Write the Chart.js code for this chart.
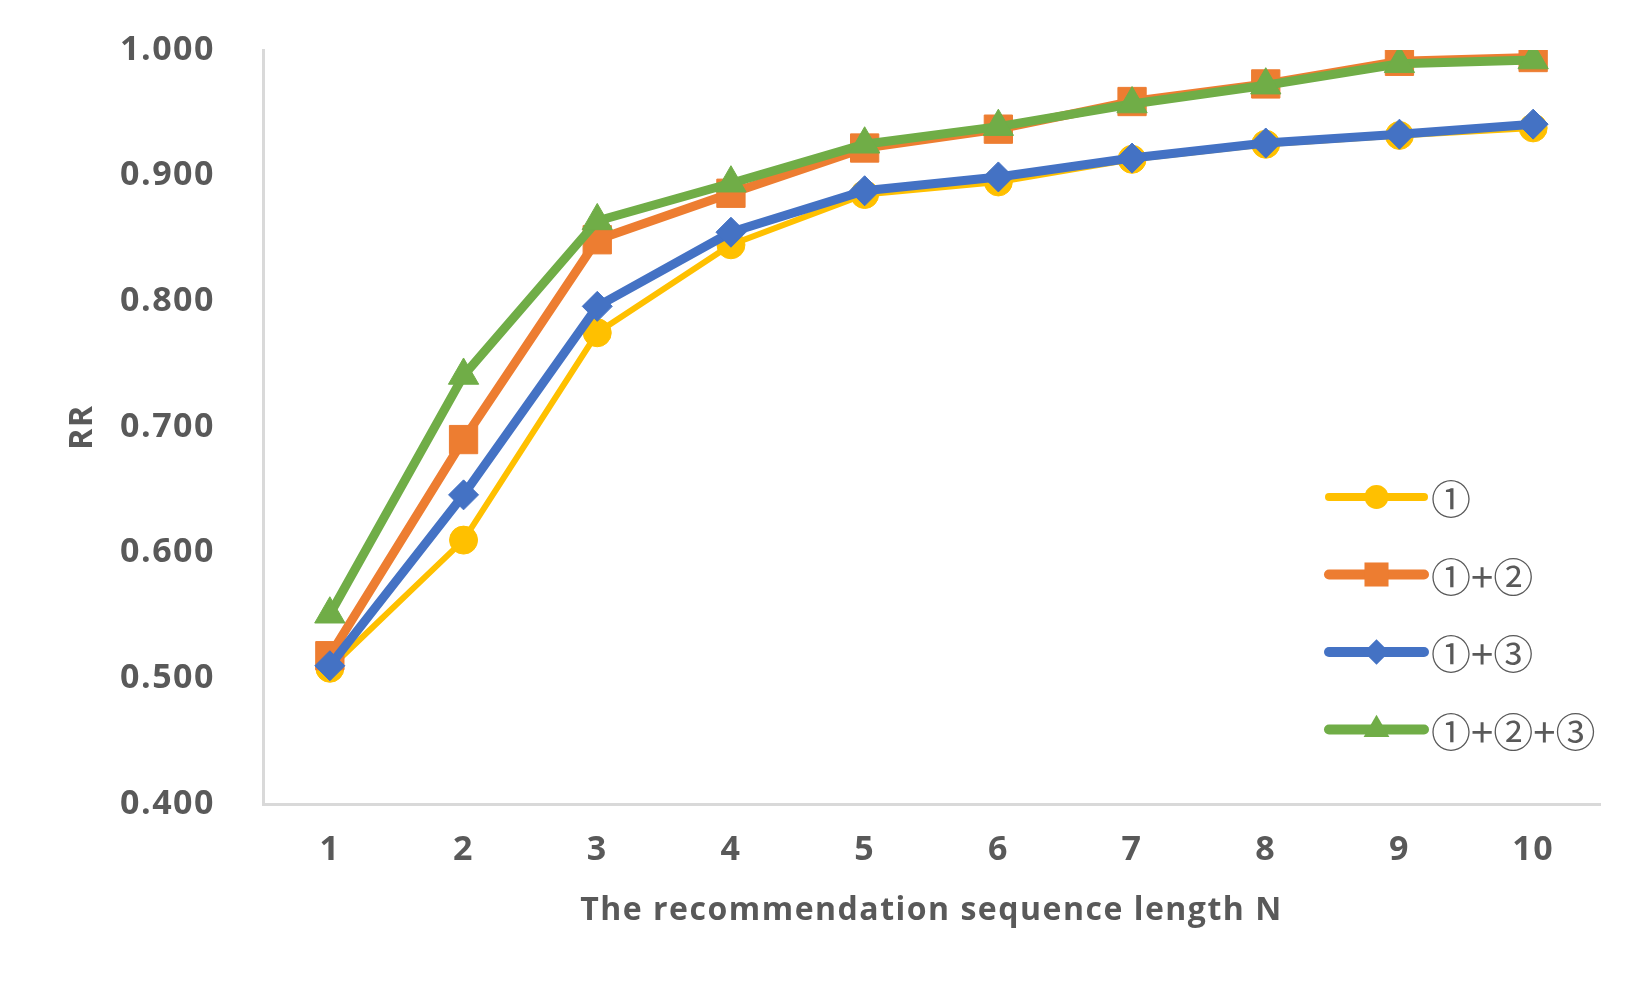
<!DOCTYPE html>
<html>
<head>
<meta charset="utf-8">
<script src="https://cdn.jsdelivr.net/npm/chart.js@4.4.1/dist/chart.umd.min.js"></script>
<style>
  html, body { margin: 0; padding: 0; background: #ffffff; }
  #wrap { width: 1650px; height: 990px; position: relative; }
</style>
</head>
<body>
<div id="wrap"><canvas id="c"></canvas></div>
<script>
const categories = ['1', '2', '3', '4', '5', '6', '7', '8', '9', '10'];
const seriesNames = ['①', '①+②', '①+③', '①+②+③'];
const s1 = [0.508, 0.610, 0.775, 0.845, 0.885, 0.895, 0.913, 0.925, 0.932, 0.938];
const s12 = [0.518, 0.690, 0.849, 0.886, 0.922, 0.937, 0.959, 0.973, 0.991, 0.994];
const s13 = [0.510, 0.646, 0.796, 0.855, 0.888, 0.899, 0.914, 0.926, 0.933, 0.941];
const s123 = [0.551, 0.741, 0.864, 0.894, 0.925, 0.939, 0.957, 0.972, 0.989, 0.992];
const yMin = 0.4, yMax = 1.0, yStep = 0.1;
const xTitle = 'The recommendation sequence length N';
const yTitle = 'RR';

const colors = ['#FFC000', '#ED7D31', '#4472C4', '#70AD47'];
const styles = ['circle', 'rect', 'rectRot', 'triangle'];
const radii = [14, 20, 15, 17.5];
const widths = [6, 9, 9, 9];
const values = [s1, s12, s13, s123];
const textColor = '#595959';
const tickFont = { family: '"Open Sans", "DejaVu Sans", sans-serif', size: 34, weight: 'bold' };
const titleFont = { family: '"Open Sans", "DejaVu Sans", sans-serif', size: 32, weight: 'bold' };

function drawMarker(ctx, style, x, y, r, color) {
  ctx.save();
  ctx.fillStyle = color;
  ctx.beginPath();
  if (style === 'circle') {
    ctx.arc(x, y, r, 0, Math.PI * 2);
  } else if (style === 'rect') {
    const s = Math.SQRT1_2 * r;
    ctx.rect(x - s, y - s, 2 * s, 2 * s);
  } else if (style === 'rectRot') {
    ctx.moveTo(x - r, y); ctx.lineTo(x, y - r); ctx.lineTo(x + r, y); ctx.lineTo(x, y + r);
    ctx.closePath();
  } else if (style === 'triangle') {
    ctx.moveTo(x, y - r);
    ctx.lineTo(x + r * Math.sin(Math.PI / 3), y + r * 0.5);
    ctx.lineTo(x - r * Math.sin(Math.PI / 3), y + r * 0.5);
    ctx.closePath();
  }
  ctx.fill();
  ctx.restore();
}

const spacingPlugin = {
  id: 'spacing',
  beforeInit(chart) { chart.ctx.letterSpacing = '1.5px'; },
  beforeUpdate(chart) { chart.ctx.letterSpacing = '1.5px'; },
  beforeDraw(chart) { chart.ctx.letterSpacing = '1.5px'; }
};

const legendPlugin = {
  id: 'customLegend',
  afterDraw(chart) {
    const ctx = chart.ctx;
    const x0 = 1329, x1 = 1424, tx = 1431, y0 = 497, dy = 77.5;
    chart.data.datasets.forEach((ds, i) => {
      const y = y0 + i * dy;
      ctx.save();
      ctx.strokeStyle = ds.borderColor;
      ctx.lineWidth = i === 0 ? 8 : 10;
      ctx.lineCap = 'round';
      ctx.beginPath();
      ctx.moveTo(x0, y); ctx.lineTo(x1, y);
      ctx.stroke();
      ctx.restore();
      drawMarker(ctx, ds.pointStyle, (x0 + x1) / 2, y, ds.pointRadius * 0.85, ds.borderColor);
      ctx.save();
      ctx.letterSpacing = '0px';
      ctx.fillStyle = textColor;
      ctx.font = '40px "Noto Sans CJK JP", "DejaVu Sans", sans-serif';
      ctx.textBaseline = 'middle';
      ctx.textAlign = 'left';
      ctx.fillText(ds.label, tx, y + 2);
      ctx.restore();
    });
  }
};

const datasets = values.map((v, i) => ({
  label: seriesNames[i],
  data: v,
  borderColor: colors[i],
  backgroundColor: colors[i],
  borderWidth: widths[i],
  pointStyle: styles[i],
  pointRadius: radii[i],
  pointHoverRadius: radii[i],
  pointBackgroundColor: colors[i],
  pointBorderColor: colors[i],
  pointBorderWidth: 1,
  tension: 0,
  fill: false,
  order: 3 - i
}));

const hiddenGrid = { display: true, color: 'rgba(0,0,0,0)', tickColor: 'rgba(0,0,0,0)', drawOnChartArea: false };

new Chart(document.getElementById('c'), {
  type: 'line',
  data: { labels: categories, datasets },
  options: {
    responsive: true,
    maintainAspectRatio: false,
    animation: false,
    devicePixelRatio: 1,
    layout: { padding: { top: 50, right: 50, left: 0, bottom: 0 } },
    plugins: { legend: { display: false }, tooltip: { enabled: false } },
    scales: {
      x: {
        offset: true,
        grid: { display: false, drawTicks: false },
        border: { display: true, color: '#d9d9d9', width: 3 },
        ticks: { color: textColor, font: tickFont, padding: 26, maxRotation: 0 },
        title: { display: true, text: xTitle, color: textColor, font: titleFont, padding: { top: 0, bottom: 60 } },
        afterFit(scale) { scale.height = 186; }
      },
      y: {
        min: yMin, max: yMax,
        grid: Object.assign({}, hiddenGrid, { drawTicks: true, tickLength: 48 }),
        border: { display: true, color: '#d9d9d9', width: 3 },
        ticks: { stepSize: yStep, color: textColor, font: tickFont, padding: 0,
                 callback: (v) => Number(v).toFixed(3) },
        title: { display: true, text: yTitle, color: textColor, font: titleFont, padding: { top: 64, bottom: 0 } },
        afterFit(scale) { scale.width = 263; }
      }
    }
  },
  plugins: [spacingPlugin, legendPlugin]
});
</script>
</body>
</html>
